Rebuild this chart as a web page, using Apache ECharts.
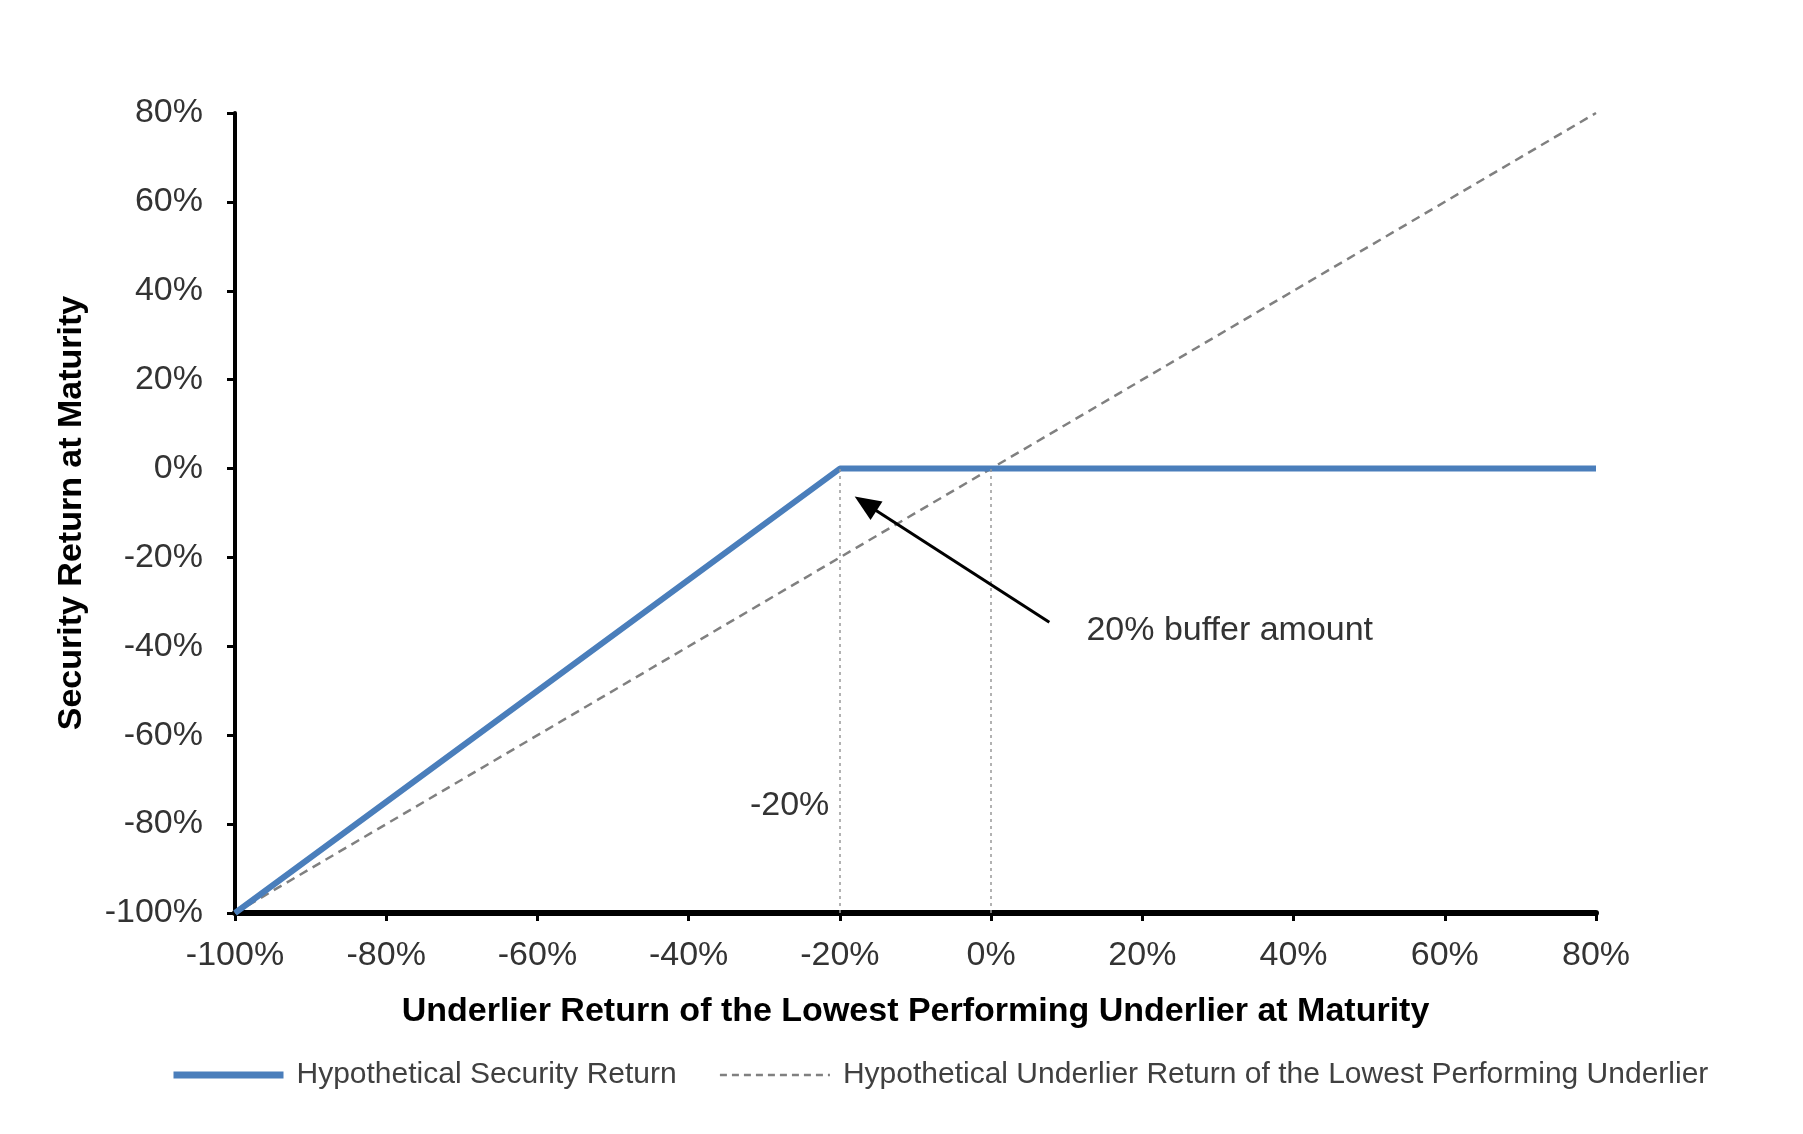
<!DOCTYPE html>
<html>
<head>
<meta charset="utf-8">
<script src="https://cdn.jsdelivr.net/npm/echarts@6/dist/echarts.min.js"></script>
<style>
html, body { margin: 0; padding: 0; background: #fff; }
#main { width: 1803px; height: 1134px; }
</style>
</head>
<body>
<div id="main"></div>
<script>
// data
var securityReturn = [[-100, -100], [-20, 0], [80, 0]];
var underlierReturn = [[-100, -100], [80, 80]];
var guideX = [-20, 0];
var arrowFrom = [7.7, -34.6];
var arrowTo = [-16.6, -7.9];
var bufferText = '20% buffer amount';
var bufferPos = [12.6, -36.4];
var thresholdText = '-20%';
var thresholdPos = [-21.4, -75.9];

var FONT = '"Liberation Sans", Arial, sans-serif';
var BLUE = '#4a7ebb';
var GREY = '#808080';

function pct(v) {
	return v + '%';
}

var guideLines = [];
for (var i = 0; i < guideX.length; i++) {
	guideLines.push([{ coord: [guideX[i], -100] }, { coord: [guideX[i], 0] }]);
}

var ech = echarts.init(document.getElementById('main'));
var option = {
	animation: false,
	grid: {
		left: 235,
		right: 207,
		top: 113,
		bottom: 221
	},
	legend: {
		left: 165,
		top: 1055,
		itemWidth: 110,
		itemHeight: 20,
		itemGap: 42,
		itemStyle: { opacity: 0 },
		textStyle: {
			fontFamily: FONT,
			fontSize: 30,
			color: '#404040',
			padding: [0, 0, 0, 8]
		},
		data: [{
			name: 'Hypothetical Security Return',
			lineStyle: { color: BLUE, width: 7 }
		}, {
			name: 'Hypothetical Underlier Return of the Lowest Performing Underlier',
			lineStyle: { color: GREY, width: 2.5, type: [7, 5] }
		}]
	},
	xAxis: {
		type: 'value',
		min: -100,
		max: 80,
		interval: 20,
		name: 'Underlier Return of the Lowest Performing Underlier at Maturity',
		nameLocation: 'middle',
		nameGap: 82,
		nameTextStyle: {
			fontFamily: FONT,
			fontSize: 34,
			fontWeight: 'bold',
			color: '#000'
		},
		axisLine: {
			onZero: false,
			lineStyle: { color: '#000', width: 6 }
		},
		axisTick: {
			show: true,
			length: 8,
			lineStyle: { color: '#000', width: 3 }
		},
		axisLabel: {
			margin: 26,
			fontFamily: FONT,
			fontSize: 34,
			color: '#333',
			formatter: pct
		},
		splitLine: { show: false }
	},
	yAxis: {
		type: 'value',
		min: -100,
		max: 80,
		interval: 20,
		name: 'Security Return at Maturity',
		nameLocation: 'middle',
		nameGap: 146,
		nameRotate: 90,
		nameTextStyle: {
			fontFamily: FONT,
			fontSize: 34,
			fontWeight: 'bold',
			color: '#000'
		},
		axisLine: {
			show: true,
			onZero: false,
			lineStyle: { color: '#000', width: 4 }
		},
		axisTick: {
			show: true,
			length: 8,
			lineStyle: { color: '#000', width: 3 }
		},
		axisLabel: {
			margin: 32,
			fontFamily: FONT,
			fontSize: 34,
			color: '#333',
			formatter: pct
		},
		splitLine: { show: false }
	},
	series: [{
		name: 'Hypothetical Underlier Return of the Lowest Performing Underlier',
		type: 'line',
		data: underlierReturn,
		symbol: 'none',
		z: 2,
		lineStyle: { color: GREY, width: 2.5, type: [9, 6] },
		itemStyle: { color: GREY }
	}, {
		name: 'Hypothetical Security Return',
		type: 'line',
		data: securityReturn,
		symbol: 'none',
		z: 3,
		lineStyle: { color: BLUE, width: 6 },
		itemStyle: { color: BLUE },
		markLine: {
			silent: true,
			symbol: ['none', 'none'],
			label: { show: false },
			lineStyle: { color: '#999', width: 1.5, type: [3, 4] },
			data: guideLines
		}
	}, {
		name: 'annotations',
		type: 'line',
		data: [],
		z: 4,
		markLine: {
			silent: true,
			symbol: ['none', 'triangle'],
			symbolSize: [22, 26],
			label: { show: false },
			lineStyle: { color: '#000', width: 3, type: 'solid' },
			data: [[{ coord: arrowFrom }, { coord: arrowTo }]]
		},
		markPoint: {
			silent: true,
			symbol: 'circle',
			symbolSize: 0,
			data: [{
				coord: bufferPos,
				label: {
					show: true,
					formatter: bufferText,
					position: 'right',
					distance: 0,
					fontFamily: FONT,
					fontSize: 34,
					color: '#333'
				}
			}, {
				coord: thresholdPos,
				label: {
					show: true,
					formatter: thresholdText,
					position: 'left',
					distance: 0,
					fontFamily: FONT,
					fontSize: 34,
					color: '#333'
				}
			}]
		}
	}]
};
ech.setOption(option);
</script>
</body>
</html>
